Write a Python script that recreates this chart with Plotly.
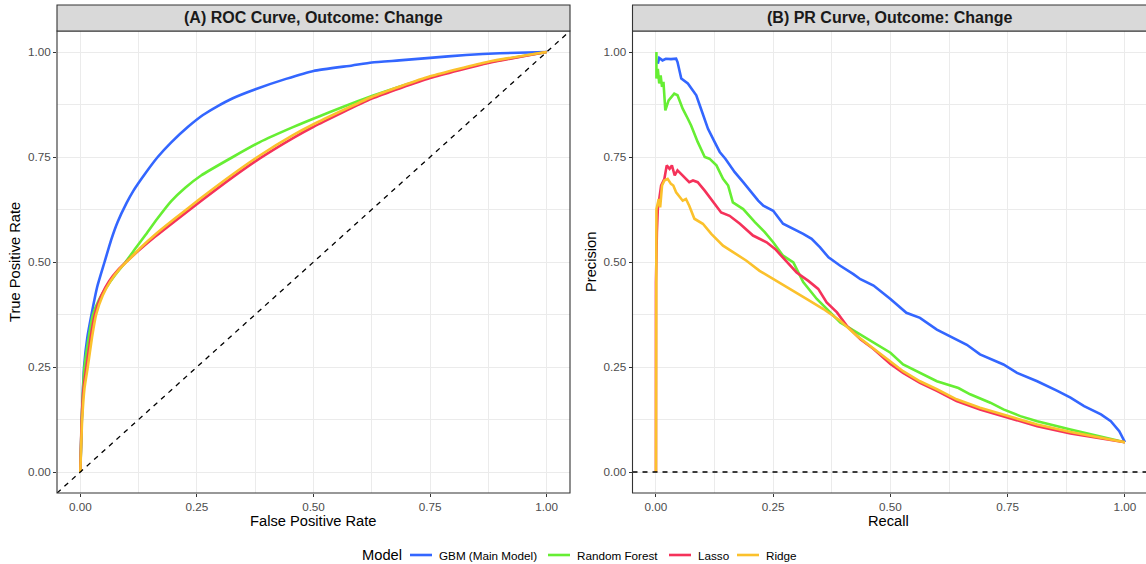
import plotly.graph_objects as go

W, H = 1146, 564

MODELS = ["GBM (Main Model)", "Random Forest", "Lasso", "Ridge"]
COLORS = ["#3366FF", "#66EE33", "#F5325A", "#FBC12C"]

TICK_VALS = [0.0, 0.25, 0.5, 0.75, 1.0]
TICK_TEXT = ["0.00", "0.25", "0.50", "0.75", "1.00"]

# ---- ROC curves (false positive rate, true positive rate) ----
roc_gbm_fpr = [0, 0.002, 0.004, 0.008, 0.015, 0.024, 0.036, 0.052, 0.066, 0.08, 0.099, 0.114, 0.14, 0.166,
               0.195, 0.231, 0.263, 0.291, 0.327, 0.377, 0.441, 0.5, 0.583, 0.625, 0.684, 0.75, 0.827,
               0.899, 1.0]
roc_gbm_tpr = [0, 0.08, 0.15, 0.25, 0.32, 0.375, 0.44, 0.5, 0.552, 0.595, 0.64, 0.67, 0.712, 0.75,
               0.785, 0.822, 0.85, 0.869, 0.89, 0.912, 0.936, 0.955, 0.968, 0.975, 0.98, 0.986, 0.993,
               0.997, 1.0]

roc_rf_fpr = [0, 0.003, 0.009, 0.018, 0.027, 0.04, 0.056, 0.075, 0.097, 0.12, 0.14, 0.165, 0.195, 0.225,
              0.259, 0.327, 0.384, 0.456, 0.513, 0.625, 0.75, 0.875, 1.0]
roc_rf_tpr = [0, 0.125, 0.25, 0.32, 0.375, 0.41, 0.44, 0.47, 0.5, 0.535, 0.565, 0.603, 0.645, 0.677,
              0.706, 0.75, 0.785, 0.821, 0.847, 0.895, 0.94, 0.975, 1.0]

roc_lasso_fpr = [0, 0.003, 0.007, 0.013, 0.022, 0.031, 0.045, 0.062, 0.08, 0.105, 0.13, 0.16, 0.2, 0.256,
                 0.327, 0.384, 0.456, 0.5, 0.625, 0.75, 0.875, 1.0]
roc_lasso_tpr = [0, 0.125, 0.2, 0.25, 0.32, 0.375, 0.42, 0.455, 0.48, 0.507, 0.532, 0.56, 0.595, 0.643,
                 0.702, 0.746, 0.795, 0.822, 0.889, 0.938, 0.974, 1.0]

roc_ridge_fpr = [0, 0.004, 0.009, 0.016, 0.025, 0.034, 0.048, 0.065, 0.083, 0.108, 0.132, 0.16, 0.2, 0.256,
                 0.327, 0.384, 0.456, 0.5, 0.625, 0.75, 0.875, 1.0]
roc_ridge_tpr = [0, 0.125, 0.2, 0.25, 0.32, 0.375, 0.42, 0.455, 0.482, 0.51, 0.537, 0.565, 0.601, 0.65,
                 0.709, 0.753, 0.802, 0.828, 0.893, 0.942, 0.977, 1.0]

# ---- PR curves (recall, precision) ----
pr_gbm_rec = [0.004, 0.007, 0.014, 0.021, 0.032, 0.043, 0.046, 0.054, 0.068, 0.086, 0.096, 0.111, 0.125, 0.136,
              0.148, 0.168, 0.186, 0.2, 0.218, 0.229, 0.25, 0.271, 0.293, 0.314, 0.332, 0.35, 0.368, 0.393,
              0.421, 0.436, 0.464, 0.5, 0.534, 0.563, 0.599, 0.641, 0.663, 0.691, 0.741, 0.77, 0.813, 0.856,
              0.884, 0.913, 0.949, 0.97, 0.988, 1.0]
pr_gbm_prec = [0.972, 0.986, 0.98, 0.984, 0.983, 0.984, 0.976, 0.937, 0.925, 0.897, 0.865, 0.817, 0.786, 0.762,
               0.746, 0.714, 0.69, 0.67, 0.646, 0.634, 0.622, 0.591, 0.579, 0.567, 0.555, 0.535, 0.511, 0.491,
               0.471, 0.459, 0.444, 0.412, 0.379, 0.367, 0.339, 0.315, 0.303, 0.28, 0.256, 0.236, 0.216, 0.193,
               0.177, 0.157, 0.137, 0.121, 0.097, 0.071]

pr_rf_rec = [0.001, 0.001, 0.004, 0.007, 0.01, 0.013, 0.016, 0.02, 0.027, 0.039, 0.046, 0.057, 0.068, 0.075,
             0.089, 0.104, 0.114, 0.129, 0.143, 0.154, 0.164, 0.186, 0.211, 0.232, 0.25, 0.271, 0.293, 0.314,
             0.343, 0.364, 0.393, 0.429, 0.464, 0.5, 0.527, 0.563, 0.599, 0.645, 0.67, 0.713, 0.741, 0.777,
             0.813, 0.884, 0.956, 1.0]
pr_rf_prec = [1.0, 0.937, 0.96, 0.925, 0.944, 0.917, 0.929, 0.861, 0.885, 0.901, 0.897, 0.865, 0.841, 0.825,
              0.786, 0.75, 0.746, 0.73, 0.698, 0.682, 0.642, 0.626, 0.595, 0.571, 0.547, 0.515, 0.499, 0.452,
              0.412, 0.388, 0.356, 0.332, 0.308, 0.284, 0.256, 0.236, 0.216, 0.2, 0.185, 0.165, 0.149, 0.133,
              0.121, 0.101, 0.083, 0.071]

pr_lasso_rec = [0.0, 0.0, 0.002, 0.004, 0.011, 0.018, 0.023, 0.029, 0.034, 0.04, 0.046, 0.057, 0.071, 0.079,
                0.089, 0.104, 0.121, 0.139, 0.157, 0.179, 0.207, 0.236, 0.254, 0.271, 0.3, 0.325, 0.346, 0.364,
                0.386, 0.407, 0.436, 0.464, 0.5, 0.527, 0.563, 0.599, 0.641, 0.691, 0.75, 0.813, 0.884, 0.956,
                1.0]
pr_lasso_prec = [0.0, 0.452, 0.571, 0.626, 0.682, 0.698, 0.73, 0.722, 0.73, 0.706, 0.718, 0.706, 0.69, 0.694,
                 0.69, 0.67, 0.646, 0.618, 0.61, 0.591, 0.563, 0.547, 0.531, 0.511, 0.475, 0.455, 0.436, 0.404,
                 0.38, 0.348, 0.316, 0.293, 0.257, 0.236, 0.212, 0.193, 0.169, 0.149, 0.129, 0.109, 0.092, 0.079,
                 0.071]

pr_ridge_rec = [0.0, 0.0, 0.001, 0.006, 0.009, 0.013, 0.018, 0.025, 0.032, 0.037, 0.043, 0.057, 0.064, 0.071,
                0.082, 0.1, 0.118, 0.143, 0.164, 0.193, 0.221, 0.25, 0.286, 0.321, 0.357, 0.393, 0.429, 0.464,
                0.5, 0.527, 0.563, 0.599, 0.641, 0.691, 0.75, 0.813, 0.884, 0.956, 1.0]
pr_ridge_prec = [0.0, 0.372, 0.626, 0.65, 0.63, 0.682, 0.694, 0.698, 0.686, 0.682, 0.666, 0.646, 0.65, 0.634,
                 0.603, 0.591, 0.567, 0.539, 0.523, 0.503, 0.479, 0.459, 0.436, 0.412, 0.388, 0.36, 0.324, 0.293,
                 0.263, 0.24, 0.216, 0.197, 0.173, 0.153, 0.133, 0.113, 0.095, 0.081, 0.071]

ROC_SERIES = [(roc_gbm_fpr, roc_gbm_tpr), (roc_rf_fpr, roc_rf_tpr),
              (roc_lasso_fpr, roc_lasso_tpr), (roc_ridge_fpr, roc_ridge_tpr)]
PR_SERIES = [(pr_gbm_rec, pr_gbm_prec), (pr_rf_rec, pr_rf_prec),
             (pr_lasso_rec, pr_lasso_prec), (pr_ridge_rec, pr_ridge_prec)]

PANEL_TITLES = ["(A) ROC Curve, Outcome: Change", "(B) PR Curve, Outcome: Change"]
LEGEND_TITLE = "Model"

FONT = "Liberation Sans, Arial, Helvetica, sans-serif"
BORDER = "#333333"
GRID = "#EBEBEB"
LINE_W = 2.6

# panel geometry in pixels
ROC_X = (57, 570)
PR_X = (632.5, 1146)
PANEL_Y = (31, 493)
STRIP_Y = (5, 31)


def px2paper_x(p):
    return p / W


def px2paper_y(p):
    return 1 - p / H


fig = go.Figure()

for name, color, (x, y) in zip(MODELS, COLORS, ROC_SERIES):
    fig.add_trace(go.Scatter(x=x, y=y, mode="lines", name=name, legendgroup=name, showlegend=False,
                             line=dict(color=color, width=LINE_W, shape="spline", smoothing=0.5),
                             xaxis="x", yaxis="y"))
for name, color, (x, y) in zip(MODELS, COLORS, PR_SERIES):
    fig.add_trace(go.Scatter(x=x, y=y, mode="lines", name=name, legendgroup=name, showlegend=False,
                             line=dict(color=color, width=LINE_W),
                             xaxis="x2", yaxis="y2"))


def axis_style(**kw):
    d = dict(
        tickvals=TICK_VALS, ticktext=TICK_TEXT,
        ticks="outside", ticklen=3, tickwidth=1, tickcolor=BORDER,
        tickfont=dict(family=FONT, size=11.7, color="#4D4D4D"),
        showgrid=True, gridcolor=GRID, gridwidth=1.1,
        minor=dict(tickvals=[0.125, 0.375, 0.625, 0.875], showgrid=True, gridcolor=GRID, gridwidth=0.55,
                   ticks=""),
        zeroline=False, showline=False, automargin=False,
    )
    d.update(kw)
    return d


ydom = [px2paper_y(PANEL_Y[1]), px2paper_y(PANEL_Y[0])]
fig.update_layout(
    xaxis=axis_style(domain=[px2paper_x(ROC_X[0]), px2paper_x(ROC_X[1])], range=[-0.05, 1.05], anchor="y"),
    yaxis=axis_style(domain=ydom, range=[-0.05, 1.05], anchor="x"),
    xaxis2=axis_style(domain=[px2paper_x(PR_X[0]), 1.0], range=[-0.05, 1.045], anchor="y2"),
    yaxis2=axis_style(domain=ydom, range=[-0.05, 1.05], anchor="x2"),
)

# reference lines: chance diagonal (ROC) and zero baseline (PR)
fig.add_shape(type="line", xref="x", yref="y", x0=-0.05, y0=-0.05, x1=1.05, y1=1.05,
              line=dict(color="black", width=1.3, dash="5px,5px"))
fig.add_shape(type="line", xref="x2 domain", yref="y2", x0=0, x1=1, y0=0, y1=0,
              line=dict(color="black", width=1.3, dash="5px,5px"))

# panel borders and strip headers
for (x0, x1), title in zip([ROC_X, (PR_X[0], PR_X[1] + 6)], PANEL_TITLES):
    fig.add_shape(type="rect", xref="paper", yref="paper",
                  x0=px2paper_x(x0), x1=px2paper_x(x1),
                  y0=px2paper_y(PANEL_Y[1]), y1=px2paper_y(PANEL_Y[0]),
                  line=dict(color=BORDER, width=1.1), fillcolor="rgba(0,0,0,0)", layer="above")
    fig.add_shape(type="rect", xref="paper", yref="paper",
                  x0=px2paper_x(x0), x1=px2paper_x(x1),
                  y0=px2paper_y(STRIP_Y[1]), y1=px2paper_y(STRIP_Y[0]),
                  line=dict(color=BORDER, width=1.1), fillcolor="#D9D9D9", layer="above")
    cx = (x0 + min(x1, PR_X[1])) / 2
    fig.add_annotation(x=px2paper_x(cx), y=px2paper_y((STRIP_Y[0] + STRIP_Y[1]) / 2),
                       xref="paper", yref="paper", text="<b>%s</b>" % title, showarrow=False,
                       font=dict(family=FONT, size=16, color="#1A1A1A"), xanchor="center", yanchor="middle")

# axis titles
axis_titles = [
    ("False Positive Rate", (ROC_X[0] + ROC_X[1]) / 2, 521, 0),
    ("Recall", (PR_X[0] + PR_X[1]) / 2 - 1, 521, 0),
    ("True Positive Rate", 15, (PANEL_Y[0] + PANEL_Y[1]) / 2, -90),
    ("Precision", 591, (PANEL_Y[0] + PANEL_Y[1]) / 2, -90),
]
for text, x, y, ang in axis_titles:
    fig.add_annotation(x=px2paper_x(x), y=px2paper_y(y), xref="paper", yref="paper", text=text,
                       showarrow=False, textangle=ang, xanchor="center", yanchor="middle",
                       font=dict(family=FONT, size=14.7, color="black"))

# legend along the bottom: title, then a line key and label for each model
LEG_Y = 555
KEY_X = [410, 548, 669, 737]
KEY_LEN = 22
fig.add_annotation(x=px2paper_x(360), y=px2paper_y(LEG_Y), xref="paper", yref="paper", text=LEGEND_TITLE,
                   showarrow=False, xanchor="left", yanchor="middle",
                   font=dict(family=FONT, size=14.7, color="black"))
for name, color, kx in zip(MODELS, COLORS, KEY_X):
    fig.add_shape(type="line", xref="paper", yref="paper",
                  x0=px2paper_x(kx), x1=px2paper_x(kx + KEY_LEN),
                  y0=px2paper_y(LEG_Y), y1=px2paper_y(LEG_Y),
                  line=dict(color=color, width=LINE_W))
    fig.add_annotation(x=px2paper_x(kx + KEY_LEN + 5), y=px2paper_y(LEG_Y), xref="paper", yref="paper",
                       text=name, showarrow=False, xanchor="left", yanchor="middle",
                       font=dict(family=FONT, size=11.7, color="black"))

fig.update_layout(
    width=W, height=H,
    margin=dict(l=0, r=0, t=0, b=0, autoexpand=False),
    paper_bgcolor="white", plot_bgcolor="white",
    font=dict(family=FONT, color="black"),
    showlegend=False,
)

fig.write_html("out.html")
